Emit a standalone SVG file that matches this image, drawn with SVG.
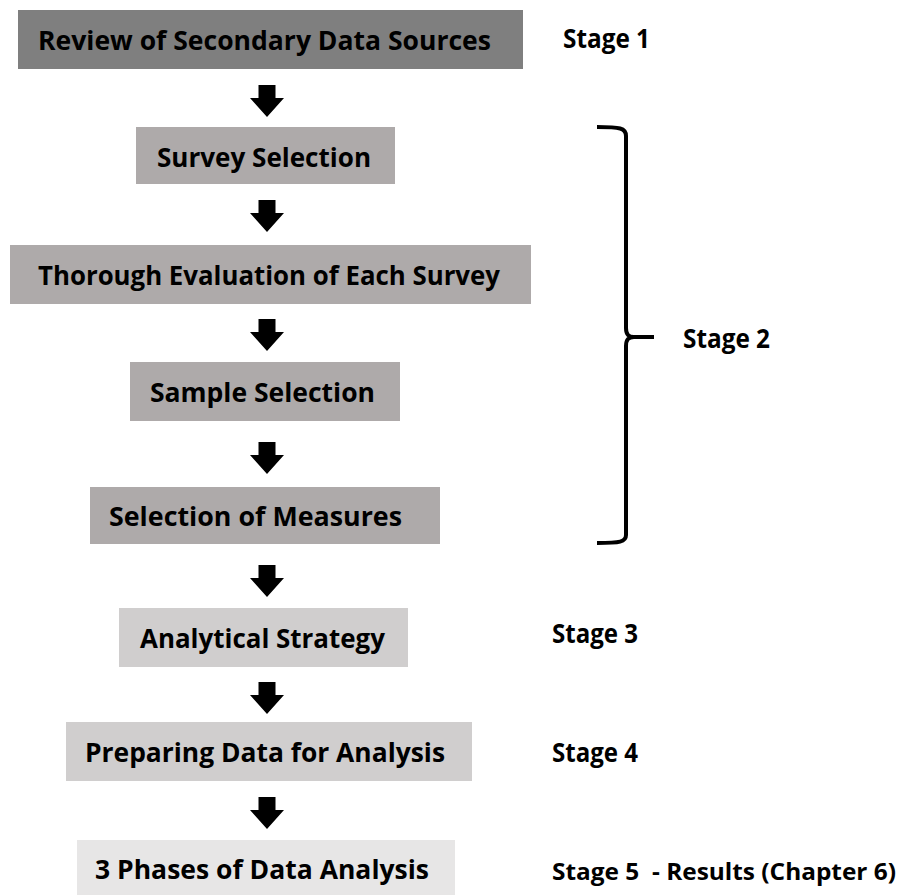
<svg xmlns="http://www.w3.org/2000/svg" xmlns:xlink="http://www.w3.org/1999/xlink" width="903" height="895" viewBox="0 0 903 895">
  <style>
    .t { font-family: "Open Sans", Lato, "Liberation Sans", sans-serif; font-weight: bold; font-size: 27px; fill: #000; white-space: pre; }
    .s5 { font-size: 24px; }
    .dark { fill: #7f7f7f; }
    .mid { fill: #aeaaaa; }
    .light { fill: #d0cece; }
    .pale { fill: #e7e6e6; }
    .arrow { fill: #000; }
    .brace { fill: none; stroke: #000; stroke-width: 4; stroke-linecap: butt; stroke-linejoin: round; }
  </style>
  <defs>
    <path id="arr" d="M-8.5,0 H8.5 V13 H17 L0,32 L-17,13 H-8.5 Z"/>
  </defs>
  <rect width="903" height="895" fill="#fff"/>

  <g id="node-review">
    <rect class="dark" x="18" y="10" width="505" height="59"/>
    <text class="t" x="38" y="50" textLength="453" lengthAdjust="spacingAndGlyphs">Review of Secondary Data Sources</text>
  </g>
  <g id="node-survey">
    <rect class="mid" x="136" y="127" width="259" height="57"/>
    <text class="t" x="157" y="167" textLength="214" lengthAdjust="spacingAndGlyphs">Survey Selection</text>
  </g>
  <g id="node-thorough">
    <rect class="mid" x="10" y="245" width="521" height="59"/>
    <text class="t" x="38" y="285" textLength="462" lengthAdjust="spacingAndGlyphs">Thorough Evaluation of Each Survey</text>
  </g>
  <g id="node-sample">
    <rect class="mid" x="130" y="362" width="270" height="59"/>
    <text class="t" x="150" y="402" textLength="225" lengthAdjust="spacingAndGlyphs">Sample Selection</text>
  </g>
  <g id="node-measures">
    <rect class="mid" x="90" y="487" width="350" height="57"/>
    <text class="t" x="109" y="526" textLength="293" lengthAdjust="spacingAndGlyphs">Selection of Measures</text>
  </g>
  <g id="node-analytical">
    <rect class="light" x="119" y="608" width="289" height="59"/>
    <text class="t" x="140" y="648" textLength="245" lengthAdjust="spacingAndGlyphs">Analytical Strategy</text>
  </g>
  <g id="node-preparing">
    <rect class="light" x="66" y="722" width="406" height="59"/>
    <text class="t" x="85" y="762" textLength="360" lengthAdjust="spacingAndGlyphs">Preparing Data for Analysis</text>
  </g>
  <g id="node-phases">
    <rect class="pale" x="77" y="840" width="378" height="55"/>
    <text class="t" x="95" y="879" textLength="334" lengthAdjust="spacingAndGlyphs">3 Phases of Data Analysis</text>
  </g>

  <g id="stage-labels">
    <text class="t" x="563" y="48" textLength="87" lengthAdjust="spacingAndGlyphs">Stage 1</text>
    <text class="t" x="683" y="348" textLength="87" lengthAdjust="spacingAndGlyphs">Stage 2</text>
    <text class="t" x="552" y="643" textLength="86" lengthAdjust="spacingAndGlyphs">Stage 3</text>
    <text class="t" x="552" y="762" textLength="86" lengthAdjust="spacingAndGlyphs">Stage 4</text>
    <text class="t s5" x="552" y="880" textLength="344" lengthAdjust="spacingAndGlyphs">Stage 5  - Results (Chapter 6)</text>
  </g>

  <g id="connectors">
    <use href="#arr" xlink:href="#arr" class="arrow" transform="translate(267,85)"/>
    <use href="#arr" xlink:href="#arr" class="arrow" transform="translate(267,200)"/>
    <use href="#arr" xlink:href="#arr" class="arrow" transform="translate(267,319)"/>
    <use href="#arr" xlink:href="#arr" class="arrow" transform="translate(267,442)"/>
    <use href="#arr" xlink:href="#arr" class="arrow" transform="translate(267,565)"/>
    <use href="#arr" xlink:href="#arr" class="arrow" transform="translate(267,682)"/>
    <use href="#arr" xlink:href="#arr" class="arrow" transform="translate(267,797)"/>
    <path class="brace" d="M597,127 C620,127 626,128 626,136 L626,328 C626,334 628,337 634,337 L654,337 M634,337 C628,337 626,340 626,346 L626,535 C626,542 620,543 597,543"/>
  </g>
</svg>
